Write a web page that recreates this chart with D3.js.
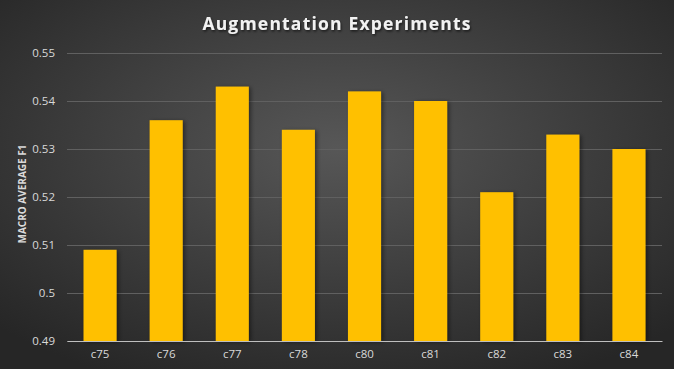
<!DOCTYPE html>
<html><head><meta charset="utf-8">
<script src="https://cdn.jsdelivr.net/npm/d3@7"></script>
<style>html,body{margin:0;padding:0;background:#333;}svg{display:block;}</style>
</head><body>
<script>
const categories = ["c75","c76","c77","c78","c80","c81","c82","c83","c84"];
const values = [0.509,0.536,0.543,0.534,0.542,0.540,0.521,0.533,0.530];
const yTicks = [0.49,0.50,0.51,0.52,0.53,0.54,0.55];
const yTickLabels = ["0.49","0.5","0.51","0.52","0.53","0.54","0.55"];

const W = 674, H = 369;
const m = {left:67, right:12, top:53, bottom:28};
const svg = d3.select("body").append("svg").attr("width",W).attr("height",H);
const defs = svg.append("defs");
const rg = defs.append("radialGradient").attr("id","bg").attr("cx","50%").attr("cy","40%").attr("r","70%");
rg.append("stop").attr("offset","0%").attr("stop-color","#575757");
rg.append("stop").attr("offset","100%").attr("stop-color","#262626");
const f = defs.append("filter").attr("id","sh").attr("x","-20%").attr("y","-20%").attr("width","150%").attr("height","150%");
f.append("feDropShadow").attr("dx",2).attr("dy",1).attr("stdDeviation",2).attr("flood-color","#000").attr("flood-opacity",0.45);
const tf = defs.append("filter").attr("id","tsh").attr("x","-10%").attr("y","-30%").attr("width","120%").attr("height","160%");
tf.append("feDropShadow").attr("dx",1).attr("dy",1.5).attr("stdDeviation",1.2).attr("flood-color","#000").attr("flood-opacity",0.6);

svg.append("rect").attr("width",W).attr("height",H).attr("fill","url(#bg)");

const x = d3.scaleBand().domain(categories).range([m.left, W-m.right]).paddingInner(0.5).paddingOuter(0.25);
const y = d3.scaleLinear().domain([0.49,0.55]).range([H-m.bottom, m.top]);

// gridlines
const ga = svg.append("g").attr("transform",`translate(${m.left},0)`)
  .call(d3.axisLeft(y).tickValues(yTicks).tickSize(-(W-m.left-m.right)).tickFormat((d,i)=>yTickLabels[i]).tickPadding(12));
ga.select(".domain").remove();
ga.selectAll(".tick line").attr("stroke","#606060").attr("stroke-width",1);
ga.selectAll(".tick text").attr("fill","#d9d9d9").style("font-family","'Open Sans', sans-serif").style("font-size","11.5px");

// bars
svg.append("g").selectAll("rect").data(values).join("rect")
  .attr("x",(d,i)=>x(categories[i]))
  .attr("width",x.bandwidth())
  .attr("y",d=>y(d))
  .attr("height",d=>y(0.49)-y(d))
  .attr("fill","#ffc000")
  .attr("filter","url(#sh)");

// x axis
const xa = svg.append("g").attr("transform",`translate(0,${H-m.bottom})`)
  .call(d3.axisBottom(x).tickSize(0).tickPadding(9));
xa.select(".domain").attr("stroke","#bfbfbf").attr("stroke-width",1);
xa.selectAll(".tick text").attr("fill","#d9d9d9").style("font-family","'Open Sans', sans-serif").style("font-size","11.5px");

// title
svg.append("text").attr("x",337).attr("y",30).attr("text-anchor","middle")
  .attr("fill","#f2f2f2").style("font-family","'Open Sans', sans-serif").style("font-weight","700")
  .style("font-size","17.5px").style("letter-spacing","1.2px").attr("filter","url(#tsh)")
  .text("Augmentation Experiments");

// y label
svg.append("text").attr("transform",`translate(26,${(m.top+H-m.bottom)/2 - 3}) rotate(-90)`)
  .attr("text-anchor","middle").attr("fill","#d9d9d9")
  .style("font-family","'Open Sans', sans-serif").style("font-weight","700").style("font-size","10px")
  .text("MACRO AVERAGE F1");
</script>
</body></html>
